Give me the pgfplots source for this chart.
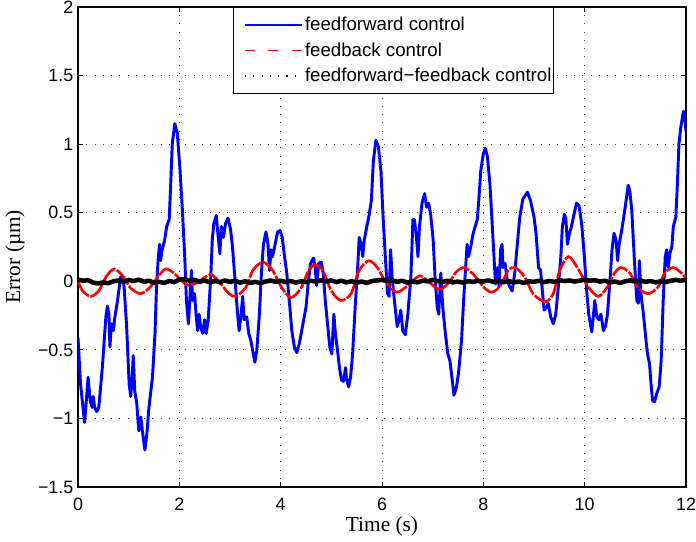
\documentclass[border=0pt]{standalone}
\usepackage{pgfplots}
\pgfplotsset{compat=1.18}
\usepackage{fontspec}
\setmainfont{Liberation Sans}
\newfontfamily\labelfont{Liberation Serif}

% feedforward control (blue)
\pgfplotstableread{
t e
0 -0.41
0.05 -0.75
0.13 -1.03
0.20 -0.70
0.24 -0.87
0.28 -0.92
0.30 -0.84
0.33 -0.92
0.37 -0.95
0.41 -0.92
0.48 -0.63
0.55 -0.26
0.58 -0.18
0.61 -0.24
0.63 -0.48
0.66 -0.31
0.70 -0.36
0.72 -0.28
0.78 -0.14
0.84 0.03
0.88 0.04
0.91 -0.04
0.96 -0.33
1.01 -0.75
1.04 -0.84
1.07 -0.70
1.09 -0.54
1.12 -0.80
1.16 -0.89
1.20 -1.09
1.24 -0.99
1.27 -1.09
1.32 -1.23
1.36 -1.11
1.40 -0.92
1.47 -0.70
1.52 -0.38
1.55 -0.04
1.58 0.15
1.61 0.27
1.63 0.15
1.66 0.23
1.71 0.30
1.75 0.40
1.80 0.45
1.83 0.71
1.86 1.00
1.91 1.15
1.96 1.08
2.01 0.83
2.06 0.52
2.11 0.15
2.14 -0.14
2.18 -0.31
2.21 -0.11
2.24 0.08
2.26 -0.14
2.30 -0.09
2.33 -0.24
2.36 -0.36
2.39 -0.24
2.42 -0.33
2.46 -0.38
2.50 -0.28
2.53 -0.38
2.57 -0.28
2.62 0.03
2.65 0.30
2.68 0.42
2.73 0.48
2.76 0.35
2.80 0.20
2.83 0.40
2.87 0.32
2.91 0.42
2.96 0.46
3.01 0.38
3.05 0.25
3.07 0.15
3.11 -0.04
3.15 -0.24
3.18 -0.36
3.22 -0.24
3.25 -0.11
3.28 -0.28
3.33 -0.26
3.37 -0.38
3.41 -0.43
3.46 -0.53
3.49 -0.59
3.53 -0.50
3.58 -0.24
3.62 0.06
3.66 0.27
3.71 0.36
3.75 0.27
3.78 0.08
3.81 0.23
3.84 0.18
3.89 0.27
3.94 0.36
3.99 0.37
4.03 0.32
4.07 0.20
4.12 0.06
4.17 -0.14
4.22 -0.36
4.27 -0.48
4.32 -0.52
4.37 -0.45
4.43 -0.33
4.50 -0.19
4.55 0.01
4.59 0.13
4.65 0.17
4.68 0.10
4.71 -0.03
4.75 0.13
4.80 0.14
4.84 0.06
4.88 -0.14
4.93 -0.33
4.97 -0.48
5.01 -0.53
5.05 -0.24
5.08 -0.38
5.13 -0.53
5.16 -0.63
5.20 -0.72
5.24 -0.73
5.28 -0.63
5.30 -0.71
5.34 -0.77
5.38 -0.70
5.42 -0.53
5.47 -0.19
5.52 0.10
5.55 0.32
5.59 0.27
5.62 0.18
5.65 0.30
5.70 0.40
5.75 0.49
5.79 0.59
5.83 0.88
5.88 1.03
5.93 0.98
5.98 0.80
6.02 0.48
6.07 0.15
6.11 -0.09
6.14 -0.11
6.17 0.23
6.20 0.03
6.25 -0.16
6.30 -0.33
6.34 -0.28
6.37 -0.21
6.41 -0.36
6.46 -0.39
6.51 -0.24
6.57 0.03
6.61 0.45
6.64 0.45
6.68 0.32
6.71 0.18
6.74 0.40
6.79 0.57
6.84 0.64
6.88 0.54
6.92 0.57
6.96 0.49
7.01 0.30
7.05 0.01
7.09 -0.19
7.12 -0.24
7.16 0.06
7.20 -0.19
7.25 -0.38
7.30 -0.53
7.34 -0.58
7.38 -0.70
7.42 -0.83
7.47 -0.77
7.51 -0.67
7.57 -0.43
7.61 -0.14
7.65 0.10
7.68 0.27
7.71 0.18
7.75 0.25
7.80 0.35
7.84 0.40
7.88 0.45
7.91 0.59
7.95 0.81
8.00 0.93
8.04 0.97
8.08 0.91
8.13 0.71
8.17 0.45
8.21 0.18
8.24 -0.02
8.28 0.10
8.31 -0.04
8.34 0.23
8.37 0.27
8.39 0.10
8.43 0.13
8.47 0.01
8.52 -0.04
8.57 -0.07
8.62 0.06
8.67 0.27
8.72 0.47
8.78 0.60
8.87 0.65
8.93 0.59
9.00 0.47
9.04 0.35
9.09 0.10
9.13 0.08
9.17 -0.09
9.20 -0.21
9.25 -0.19
9.28 -0.16
9.33 -0.26
9.38 -0.31
9.43 -0.24
9.48 -0.04
9.53 0.18
9.56 0.40
9.60 0.49
9.63 0.45
9.66 0.27
9.70 0.35
9.74 0.40
9.79 0.49
9.84 0.57
9.89 0.55
9.94 0.42
9.99 0.20
10.04 -0.07
10.08 -0.24
10.14 -0.37
10.17 -0.26
10.20 -0.14
10.24 -0.26
10.28 -0.28
10.32 -0.24
10.37 -0.36
10.41 -0.33
10.45 -0.24
10.50 0.01
10.54 0.23
10.58 0.35
10.62 0.30
10.65 0.15
10.68 0.27
10.73 0.37
10.78 0.49
10.83 0.62
10.86 0.70
10.89 0.66
10.93 0.52
10.96 0.30
10.99 0.10
11.03 -0.14
11.06 -0.16
11.08 0.15
11.11 -0.09
11.16 -0.24
11.21 -0.43
11.24 -0.53
11.28 -0.60
11.31 -0.75
11.34 -0.87
11.38 -0.88
11.42 -0.82
11.47 -0.77
11.51 -0.58
11.55 -0.14
11.59 0.18
11.62 0.23
11.65 0.10
11.68 0.20
11.72 0.25
11.75 0.40
11.80 0.47
11.83 0.71
11.86 1.00
11.90 1.13
11.95 1.24
11.98 1.18
12.00 1.09
}\ffdata

% feedback control (red)
\pgfplotstableread{
t e
0 0.00
0.09 -0.07
0.25 -0.11
0.41 -0.07
0.55 0.03
0.71 0.09
0.88 0.04
1.04 -0.05
1.24 -0.09
1.43 -0.04
1.57 0.03
1.73 0.09
1.89 0.06
2.03 0.01
2.19 -0.03
2.39 0.00
2.62 0.05
2.82 -0.02
2.98 -0.09
3.12 -0.11
3.32 -0.04
3.45 0.08
3.65 0.14
3.84 0.08
4.01 -0.04
4.20 -0.12
4.40 -0.05
4.53 0.06
4.66 0.12
4.83 0.08
5.00 -0.07
5.19 -0.14
5.39 -0.09
5.55 0.08
5.74 0.15
5.91 0.10
6.05 0.01
6.28 -0.08
6.51 -0.03
6.74 0.04
6.91 0.00
7.14 -0.06
7.34 0.00
7.47 0.07
7.63 0.10
7.83 0.04
8.00 -0.04
8.17 -0.08
8.34 -0.03
8.49 0.08
8.63 0.10
8.82 0.03
8.98 -0.09
9.22 -0.15
9.38 -0.09
9.51 0.08
9.68 0.18
9.87 0.09
10.07 -0.04
10.27 -0.11
10.45 -0.04
10.59 0.06
10.72 0.10
10.89 0.06
11.06 -0.05
11.26 -0.09
11.45 -0.04
11.58 0.06
11.75 0.10
11.91 0.06
12.00 0.02
}\fbdata

% feedforward-feedback control (black)
\pgfplotstableread{
t e
0.0 0.012
0.1 0.004
0.2 0.008
0.3 -0.010
0.4 -0.016
0.5 -0.008
0.6 -0.014
0.7 0.000
0.8 0.006
0.9 -0.004
1.0 0.010
1.1 0.002
1.2 0.012
1.3 -0.004
1.4 0.004
1.5 -0.010
1.6 -0.004
1.7 -0.012
1.8 0.002
1.9 -0.006
2.0 0.012
2.1 0.016
2.2 0.004
2.3 0.010
2.4 -0.004
2.5 0.006
2.6 -0.008
2.7 0.002
2.8 -0.006
2.9 0.006
3.0 -0.004
3.1 0.004
3.2 -0.010
3.3 0.000
3.4 -0.012
3.5 -0.004
3.6 -0.014
3.7 -0.002
3.8 0.006
3.9 -0.004
4.0 0.004
4.1 -0.006
4.2 0.002
4.3 -0.010
4.4 0.000
4.5 -0.006
4.6 0.004
4.7 -0.002
4.8 0.008
4.9 0.000
5.0 0.006
5.1 -0.006
5.2 0.004
5.3 -0.008
5.4 0.000
5.5 -0.010
5.6 -0.002
5.7 -0.012
5.8 0.002
5.9 0.006
6.0 0.010
6.1 0.002
6.2 0.006
6.3 -0.004
6.4 0.004
6.5 -0.010
6.6 -0.002
6.7 -0.008
6.8 0.004
6.9 0.000
7.0 0.010
7.1 0.002
7.2 -0.004
7.3 0.004
7.4 -0.008
7.5 -0.002
7.6 -0.010
7.7 0.000
7.8 -0.004
7.9 0.004
8.0 -0.002
8.1 0.006
8.2 -0.004
8.3 0.004
8.4 -0.006
8.5 0.002
8.6 -0.008
8.7 -0.002
8.8 -0.012
8.9 0.000
9.0 -0.004
9.1 0.004
9.2 -0.006
9.3 0.002
9.4 -0.004
9.5 0.008
9.6 0.002
9.7 0.006
9.8 -0.002
9.9 0.004
10.0 0.012
10.1 0.004
10.2 0.008
10.3 -0.002
10.4 0.004
10.5 -0.008
10.6 -0.002
10.7 -0.012
10.8 0.000
10.9 0.006
11.0 -0.002
11.1 0.006
11.2 -0.004
11.3 0.002
11.4 -0.008
11.5 0.000
11.6 -0.006
11.7 0.004
11.8 0.010
11.9 0.004
12.0 0.012
}\ffbdata

\begin{document}
\begin{tikzpicture}
\begin{axis}[
    scale only axis,
    width=456pt, height=360pt,
    xmin=0, xmax=12, ymin=-1.5, ymax=2,
    xtick={0,2,4,6,8,10,12},
    xticklabels={0,2,4,6,8,10,12},
    ytick={-1.5,-1,-0.5,0,0.5,1,1.5,2},
    yticklabels={−1.5,−1,−0.5,0,0.5,1,1.5,2},
    tick pos=both, ticklabel pos=left,
    tick align=inside,
    major tick length=3.5pt,
    tick style={black, line width=0.6pt},
    axis line style={black, line width=0.9pt},
    grid=major,
    major grid style={black!75, line width=0.6pt, dash pattern=on 0.6pt off 5.6pt},
    tick label style={font=\fontsize{13.4}{16}\selectfont},
    xticklabel style={yshift=-4.5pt},
    xlabel={Time (s)},
    ylabel={Error (µm)},
    label style={font=\labelfont\fontsize{16}{18}\selectfont},
    x label style={at={(axis description cs:0.5,0)}, anchor=center, yshift=-29.5pt},
    y label style={at={(axis description cs:-0.1036,0.48)}, anchor=center},
    legend image code/.code={\path (0pt,0pt); \draw[#1] (8.5pt,0pt) -- (51.5pt,0pt);},
    legend cell align=left,
    legend style={at={(axis description cs:0.2544,1)}, anchor=north west, yshift=-0.3pt,
        draw=black, line width=0.75pt, fill=white,
        font=\fontsize{14}{16}\selectfont,
        inner xsep=0pt, inner ysep=5.5pt, row sep=4.5pt,
        nodes={inner xsep=1.5pt, inner ysep=1.5pt},
        /tikz/every even column/.append style={column sep=4pt}},
]
\addplot[blue, line width=2.2pt, line join=round, forget plot] table[x=t, y=e] {\ffdata};
\addplot[red, line width=2pt, smooth, dash pattern=on 14pt off 1.2pt, forget plot] table[x=t, y=e] {\fbdata};
\addplot[black, line width=3.4pt, line join=round, forget plot] table[x=t, y=e] {\ffbdata};
\addlegendimage{blue, line width=0.8pt}
\addlegendimage{red, line width=0.8pt, dash pattern=on 7.5pt off 10pt}
\addlegendimage{black, line width=0.9pt, dash pattern=on 0.8pt off 5.4pt}
\legend{feedforward control, feedback control, feedforward−feedback control}
\end{axis}
\pgfresetboundingbox
\path ([xshift=-58.5pt, yshift=-41.25pt]current axis.south west) rectangle ([xshift=7.5pt, yshift=5.25pt]current axis.north east);
\end{tikzpicture}
\end{document}
